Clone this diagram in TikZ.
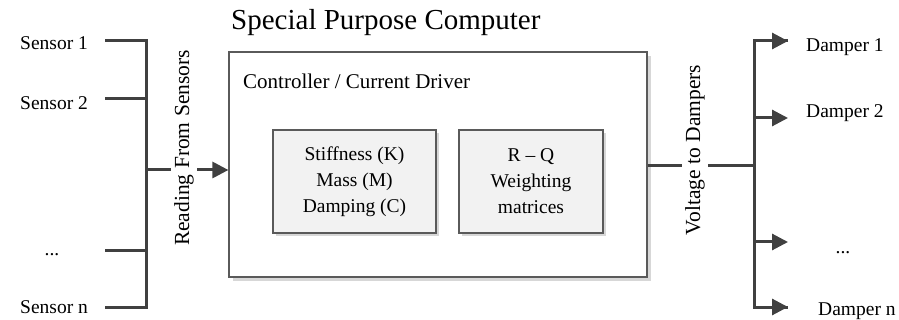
\documentclass[tikz,border=0pt]{standalone}
\usepackage{fontspec}
\setmainfont{Liberation Serif}
\usetikzlibrary{arrows.meta,shadows}
\definecolor{wirec}{RGB}{64,64,64}
\definecolor{boxline}{RGB}{90,90,90}
\definecolor{boxfill}{RGB}{242,242,242}
\definecolor{shadowc}{RGB}{215,215,215}
\begin{document}
\begin{tikzpicture}[x=1pt,y=-1pt,
  lbl/.style={font=\fontsize{19.5}{22}\selectfont, inner sep=0pt},
  vlbl/.style={font=\fontsize{21.5}{24}\selectfont, rotate=90, fill=white, inner sep=3pt},
  wire/.style={draw=wirec, line width=3pt},
  arr/.style={wire, -{Triangle[length=16pt,width=16pt]}},
  mainbox/.style={draw=boxline, line width=1.2pt, fill=white, minimum width=418pt, minimum height=225pt, inner sep=0pt,
    drop shadow={shadow xshift=4pt, shadow yshift=-4pt, fill=shadowc, opacity=1}},
  innerbox/.style={draw=boxline, line width=1.2pt, fill=boxfill, minimum height=103pt, inner sep=0pt,
    align=center, font=\fontsize{19.5}{26}\selectfont,
    drop shadow={shadow xshift=3pt, shadow yshift=-3pt, fill=shadowc, opacity=1}}
]
\useasboundingbox (0,0) rectangle (899,320);

% title and main box
\node[font=\fontsize{29}{32}\selectfont, anchor=base west, inner sep=0pt] (title) at (231,30) {Special Purpose Computer};
\node[mainbox] (mb) at (438,164.5) {};
\node[font=\fontsize{21}{24}\selectfont, anchor=base west, inner sep=0pt] (ctrl) at (243,89) {Controller / Current Driver};

% inner boxes
\node[innerbox, minimum width=163pt] (kmc) at (354.5,181.5) {Stiffness (K)\\Mass (M)\\Damping (C)};
\node[innerbox, minimum width=144pt] (rq) at (531,181.5) {R -- Q\\Weighting\\matrices};

% sensors
\node[lbl, anchor=base west] (s1) at (20,50) {Sensor 1};
\node[lbl, anchor=base west] (s2) at (20,110) {Sensor 2};
\node[lbl, anchor=base] (sd) at (52,256) {...};
\node[lbl, anchor=base west] (sn) at (20,313) {Sensor n};

\coordinate (a1) at (105,41);
\coordinate (a2) at (105,99);
\coordinate (ad) at (105,251);
\coordinate (an) at (105,307);
\coordinate (b1) at (146,41);
\coordinate (b2) at (146,99);
\coordinate (bd) at (146,251);
\coordinate (bn) at (146,307);
\coordinate (bm) at (146,170);

\draw[wire, line cap=butt, line join=miter] (a1) -- (b1) -- (bn) -- (an);
\draw[wire] (a2) -- (b2);
\draw[wire] (ad) -- (bd);
\draw[arr] (bm) -- (bm -| mb.west);
\node[vlbl] (rfs) at (184,148) {Reading From Sensors};

% dampers
\coordinate (c0) at (754,166);
\coordinate (c1) at (754,41);
\coordinate (c2) at (754,118);
\coordinate (cd) at (754,242);
\coordinate (cn) at (754,307);
\coordinate (e1) at (788,41);
\coordinate (e2) at (788,118);
\coordinate (ed) at (788,242);
\coordinate (en) at (788,307);

\draw[wire] (mb.east |- c0) -- (c0);
\node[vlbl] (vtd) at (695,150) {Voltage to Dampers};
\draw[wire, line join=miter] (e1) -- (c1) -- (cn) -- (en);
\draw[arr] (c1) -- (e1);
\draw[arr] (c2) -- (e2);
\draw[arr] (cd) -- (ed);
\draw[arr] (cn) -- (en);

\node[lbl, anchor=base west] (d1) at (806,52) {Damper 1};
\node[lbl, anchor=base west] (d2) at (806,118) {Damper 2};
\node[lbl, anchor=base] (dd) at (843,254) {...};
\node[lbl, anchor=base west] (dn) at (818,315) {Damper n};
\end{tikzpicture}
\end{document}
